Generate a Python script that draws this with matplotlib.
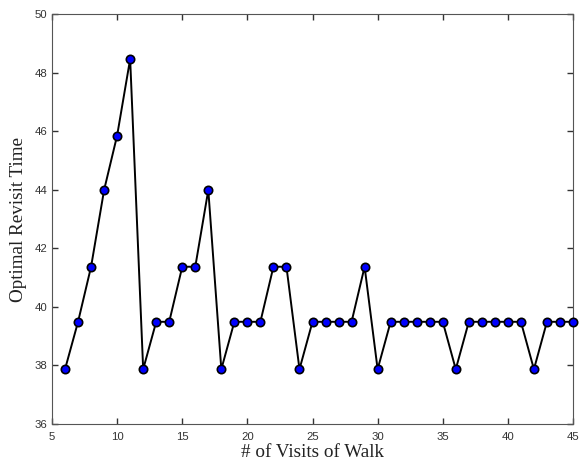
import numpy as np
import matplotlib
matplotlib.use("Agg")
import matplotlib.pyplot as plt

# number of visits of the walk and the resulting optimal revisit time
visits = list(range(6, 46))
revisit = [37.87, 39.49, 41.37, 43.99, 45.85, 48.46,
           37.87, 39.49, 39.49, 41.37, 41.37, 43.99,
           37.87, 39.49, 39.49, 39.49, 41.37, 41.37,
           37.87, 39.49, 39.49, 39.49, 39.49, 41.37,
           37.87, 39.49, 39.49, 39.49, 39.49, 39.49,
           37.87, 39.49, 39.49, 39.49, 39.49, 39.49,
           37.87, 39.49, 39.49, 39.49]

fig = plt.figure(figsize=(5.8, 4.72), dpi=100)
ax = fig.add_axes([52/580, 48/472, 521/580, 410/472])

ax.plot(visits, revisit, color="black", lw=1.4, marker="o", ms=6,
        mfc="#0000ff", mec="black", mew=1.2, clip_on=False, zorder=3)

ax.set_xlim(5, 45)
ax.set_ylim(36, 50)
ax.set_xticks(np.arange(5, 46, 5))
ax.set_yticks(np.arange(36, 51, 2))

# inward ticks on all four sides
ax.tick_params(direction="in", top=True, right=True, length=4.5, width=1.0,
               color="#333333", labelsize=8.2, labelcolor="#333333")
ax.tick_params(axis="x", pad=6)
for lab in ax.get_xticklabels() + ax.get_yticklabels():
    lab.set_family("Liberation Sans")
for s in ax.spines.values():
    s.set_color("#555555")
    s.set_linewidth(0.8)

ax.set_xlabel("# of Visits of Walk", family="Liberation Serif", fontsize=13.8,
              color="#222222", labelpad=1)
ax.set_ylabel("Optimal Revisit Time", family="Liberation Serif", fontsize=13.8,
              color="#222222", labelpad=5)

fig.savefig("out.png", dpi=100)
